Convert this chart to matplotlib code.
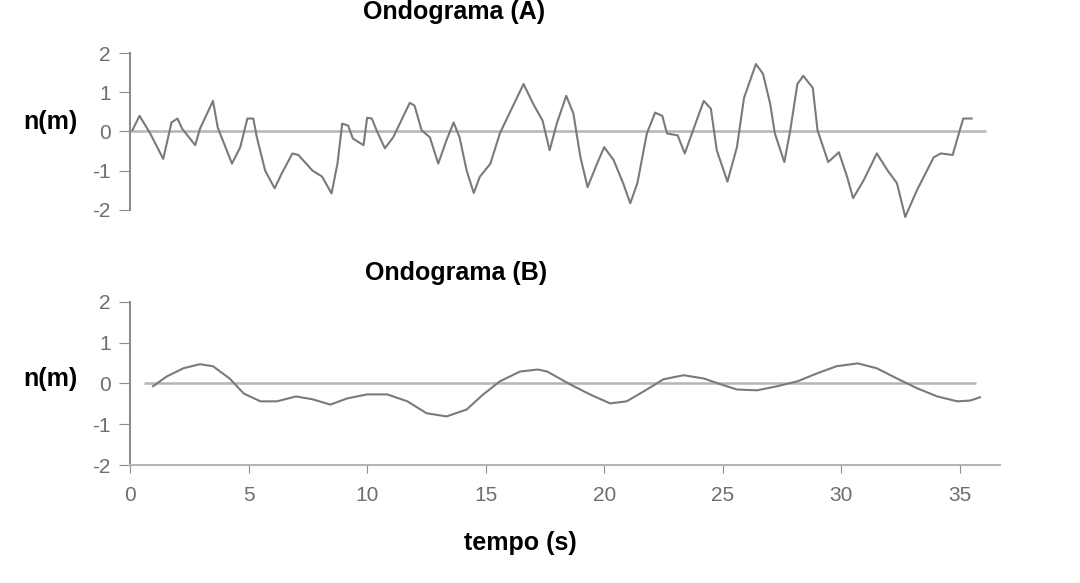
import matplotlib.pyplot as plt

plt.rcParams['font.family'] = ['Liberation Sans', 'DejaVu Sans']

# Ondograma (A) - leitura aproximada do gráfico
t_a = [0.1, 0.4, 0.85, 1.4, 1.75, 2.0, 2.2, 2.75, 2.95, 3.5, 3.7, 4.3, 4.65, 4.95,
       5.2, 5.35, 5.7, 6.1, 6.4, 6.85, 7.1, 7.7, 8.1, 8.5, 8.75, 8.95, 9.2, 9.4,
       9.85, 10.0, 10.2, 10.4, 10.75, 11.1, 11.8, 12.0, 12.3, 12.65, 13.0, 13.35,
       13.65, 13.9, 14.2, 14.5, 14.75, 15.2, 15.6, 16.0, 16.6, 17.0, 17.4, 17.7,
       18.0, 18.4, 18.7, 19.0, 19.3, 19.7, 20.0, 20.4, 20.8, 21.1, 21.4, 21.8,
       22.15, 22.45, 22.65, 23.1, 23.4, 23.75, 24.2, 24.5, 24.75, 25.2, 25.6,
       25.9, 26.4, 26.7, 27.0, 27.2, 27.6, 27.85, 28.15, 28.4, 28.8, 29.0, 29.45,
       29.9, 30.25, 30.5, 30.95, 31.5, 31.95, 32.35, 32.7, 33.2, 33.9, 34.2, 34.7,
       35.0, 35.15, 35.5]
n_a = [0.03, 0.4, -0.05, -0.7, 0.23, 0.33, 0.07, -0.35, 0.07, 0.78, 0.1, -0.82, -0.4, 0.33,
       0.33, -0.15, -1.0, -1.45, -1.07, -0.56, -0.6, -1.0, -1.15, -1.58, -0.82, 0.2, 0.15, -0.18,
       -0.35, 0.35, 0.33, 0.03, -0.43, -0.15, 0.73, 0.66, 0.03, -0.15, -0.82, -0.22,
       0.23, -0.15, -1.0, -1.57, -1.16, -0.82, -0.05, 0.46, 1.21, 0.71, 0.28, -0.48,
       0.2, 0.91, 0.46, -0.66, -1.42, -0.82, -0.4, -0.73, -1.32, -1.83, -1.32, -0.05,
       0.48, 0.4, -0.05, -0.1, -0.56, 0.03, 0.78, 0.58, -0.48, -1.28, -0.4,
       0.86, 1.72, 1.47, 0.71, -0.05, -0.78, 0.03, 1.21, 1.42, 1.11, 0.03, -0.78,
       -0.53, -1.16, -1.7, -1.24, -0.56, -0.99, -1.32, -2.18, -1.49, -0.66, -0.56, -0.6,
       0.03, 0.33, 0.33]

# Ondograma (B)
t_b = [0.97, 1.55, 2.25, 2.95, 3.5, 4.2, 4.8, 5.5, 6.2, 7.0, 7.7, 8.45, 9.15, 10.0,
       10.85, 11.7, 12.5, 13.35, 14.2, 14.9, 15.6, 16.45, 17.2, 17.6, 18.55, 19.4,
       20.25, 20.95, 21.8, 22.5, 23.35, 24.2, 24.9, 25.6, 26.45, 27.3, 28.15, 29.0,
       29.8, 30.7, 31.5, 32.35, 33.2, 34.05, 34.9, 35.45, 35.85]
n_b = [-0.07, 0.17, 0.37, 0.47, 0.42, 0.12, -0.25, -0.44, -0.44, -0.32, -0.39, -0.52, -0.37, -0.27,
       -0.27, -0.44, -0.73, -0.81, -0.64, -0.27, 0.05, 0.29, 0.34, 0.29, -0.02, -0.27,
       -0.49, -0.44, -0.15, 0.1, 0.2, 0.12, -0.02, -0.15, -0.17, -0.07, 0.05, 0.25,
       0.42, 0.49, 0.37, 0.12, -0.12, -0.32, -0.44, -0.42, -0.34]

y_ticks = [-2, -1, 0, 1, 2]
x_ticks = [0, 5, 10, 15, 20, 25, 30, 35]

cor_linha = '#7a7a7a'
cor_zero = '#b5b5b5'
cor_eixo = '#8c8c8c'
cor_texto = '#6e6e6e'

fig = plt.figure(figsize=(10.8, 5.83), dpi=100)
ax_a = fig.add_axes([0.1204, 0.640, 0.8056, 0.269])
ax_b = fig.add_axes([0.1204, 0.2024, 0.8056, 0.280])

for ax in (ax_a, ax_b):
    ax.set_xlim(0, 36.7)
    ax.set_ylim(-2, 2)
    ax.set_yticks(y_ticks)
    ax.set_yticklabels([str(v) for v in y_ticks], color=cor_texto, fontsize=15)
    for s in ['top', 'right']:
        ax.spines[s].set_visible(False)
    ax.spines['left'].set_color(cor_eixo)
    ax.spines['left'].set_linewidth(1.5)
    ax.tick_params(axis='y', colors=cor_eixo, labelcolor=cor_texto, length=8, pad=6)
    ax.set_facecolor('none')

# grafico A: sem eixo x
ax_a.spines['bottom'].set_visible(False)
ax_a.set_xticks([])
ax_a.hlines(0, 0, 36.1, color=cor_zero, lw=1.8)
ax_a.plot(t_a, n_a, color=cor_linha, lw=1.5, clip_on=False)

# grafico B
ax_b.spines['bottom'].set_color(cor_zero)
ax_b.spines['bottom'].set_linewidth(1.5)
ax_b.set_xticks(x_ticks)
ax_b.set_xticklabels([str(v) for v in x_ticks], color=cor_texto, fontsize=15)
ax_b.tick_params(axis='x', colors=cor_eixo, labelcolor=cor_texto, length=6, pad=9)
ax_b.hlines(0, 0.6, 35.7, color=cor_zero, lw=1.8)
ax_b.plot(t_b, n_b, color=cor_linha, lw=1.5)

# textos
fig.text(0.420, 0.979, 'Ondograma (A)', fontsize=18, fontweight='bold', ha='center', va='center')
fig.text(0.422, 0.532, 'Ondograma (B)', fontsize=18, fontweight='bold', ha='center', va='center')
fig.text(0.482, 0.069, 'tempo (s)', fontsize=18, fontweight='bold', ha='center', va='center')
fig.text(0.047, 0.790, 'n(m)', fontsize=18, fontweight='bold', va='center', ha='center')
fig.text(0.047, 0.350, 'n(m)', fontsize=18, fontweight='bold', va='center', ha='center')

fig.savefig('out.png', dpi=100, facecolor='white')
